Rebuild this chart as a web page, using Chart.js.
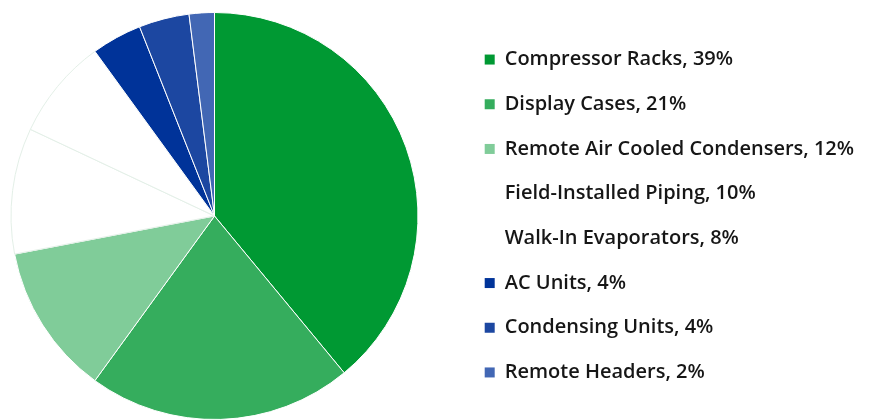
<!DOCTYPE html>
<html>
<head>
<meta charset="utf-8">
<script src="https://cdn.jsdelivr.net/npm/chart.js@4.4.1/dist/chart.umd.min.js"></script>
<style>
  html, body { margin: 0; padding: 0; background: #fff; overflow: hidden; }
  /* canvas is nudged left so the pie sits where the reference has it */
  #wrap { width: 906px; height: 420px; margin-left: -31px; }
</style>
</head>
<body>
<div id="wrap"><canvas id="pieChart"></canvas></div>
<script>
// Share of refrigerant charge by component
const categories = ['Compressor Racks', 'Display Cases', 'Remote Air Cooled Condensers',
    'Field-Installed Piping', 'Walk-In Evaporators', 'AC Units', 'Condensing Units', 'Remote Headers'];
const shares = [39, 21, 12, 10, 8, 4, 4, 2];
const sliceColors = ['#009933', '#35ad5d', '#80cc99', '#ffffff', '#ffffff', '#003399', '#1c47a1', '#4267b4'];
const edgeColors = ['#ffffff', '#ffffff', '#ffffff', '#e3efe7', '#e3efe7', '#ffffff', '#ffffff', '#ffffff'];

const legendLabels = categories.map((c, i) => c + ', ' + shares[i] + '%');

// legend sizing
const fontSize = 20;
const fontWeight = '600';
const fontFamily = '"Open Sans", sans-serif';
const rowPad = 24.7;
const boxSize = 10;
const canvasWidth = 906;
const legendLeft = 491;

// work out right padding so the legend starts where it should
const measure = document.createElement('canvas').getContext('2d');
measure.font = fontWeight + ' ' + fontSize + 'px ' + fontFamily;
const longest = Math.max(...legendLabels.map(t => measure.measureText(t).width));
const legendWidth = rowPad + boxSize + fontSize / 2 + longest + 10;
const padRight = canvasWidth - legendLeft - legendWidth;

new Chart(document.getElementById('pieChart').getContext('2d'), {
    type: 'pie',
    data: {
        labels: legendLabels,
        datasets: [{
            data: shares,
            backgroundColor: sliceColors,
            borderColor: edgeColors,
            borderWidth: 1,
            hoverOffset: 0
        }]
    },
    options: {
        responsive: true,
        maintainAspectRatio: false,
        animation: false,
        layout: {
            padding: { left: 0, right: padRight, top: 12, bottom: 0 }
        },
        plugins: {
            tooltip: { enabled: false },
            legend: {
                position: 'right',
                labels: {
                    boxWidth: boxSize,
                    boxHeight: boxSize,
                    padding: rowPad,
                    color: '#161616',
                    font: { family: fontFamily, size: fontSize, weight: fontWeight },
                    generateLabels: function(chart) {
                        const items = Chart.overrides.pie.plugins.legend.labels.generateLabels(chart);
                        items.forEach(it => { it.lineWidth = 0; it.strokeStyle = 'rgba(0,0,0,0)'; });
                        return items;
                    }
                }
            }
        }
    }
});
</script>
</body>
</html>
